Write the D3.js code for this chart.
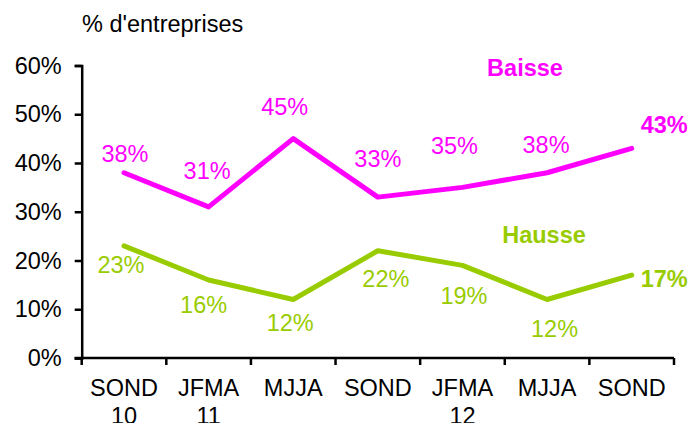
<!DOCTYPE html>
<html><head><meta charset="utf-8">
<script src="https://cdn.jsdelivr.net/npm/d3@7"></script>
<style>
html,body{margin:0;padding:0;background:#fff;}
svg{display:block;font-family:"Liberation Sans",Arial,sans-serif;}
</style></head>
<body>
<svg id="chart" width="694" height="423"></svg>
<script>
const categories = ["SOND\n10", "JFMA\n11", "MJJA", "SOND", "JFMA\n12", "MJJA", "SOND"];
const baisse = [38, 31, 45, 33, 35, 38, 43];
const hausse = [23, 16, 12, 22, 19, 12, 17];
const yTicks = [0, 10, 20, 30, 40, 50, 60];

(function () {
const svg = d3.select("#chart");
const mLeft = 81.7, mRight = 674, mTop = 65.5, mBottom = 358;
const FS = 23.5;

const x = d3.scaleBand().domain(d3.range(categories.length)).range([mLeft, mRight]).padding(0);
const y = d3.scaleLinear().domain([0, 60]).range([mBottom, mTop]);
const cx = i => x(i) + x.bandwidth() / 2;

// title
svg.append("text").attr("x", 82).attr("y", 32).attr("font-size", FS).attr("fill", "#000").text("% d'entreprises");

// y axis
const yAxis = svg.append("g").attr("transform", `translate(${mLeft},0)`)
  .call(d3.axisLeft(y).tickValues(yTicks).tickFormat(d => d + "%").tickSizeOuter(0).tickSize(7).tickPadding(13));
yAxis.select(".domain").attr("stroke", "#000").attr("stroke-width", 2.5);
yAxis.selectAll(".tick line").attr("stroke", "#000").attr("stroke-width", 2.5);
yAxis.selectAll(".tick text").attr("font-size", FS).attr("fill", "#000").attr("font-family", "Liberation Sans, Arial, sans-serif");

// x axis
const xAxis = svg.append("g").attr("transform", `translate(0,${mBottom})`);
xAxis.append("line").attr("x1", mLeft - 7).attr("x2", mRight).attr("y1", 0).attr("y2", 0).attr("stroke", "#000").attr("stroke-width", 2.5);
const bounds = d3.range(categories.length + 1).map(i => i < categories.length ? x(i) : x(i - 1) + x.bandwidth());
xAxis.selectAll("line.tk").data(bounds).join("line").attr("class", "tk")
  .attr("x1", d => d).attr("x2", d => d).attr("y1", 0).attr("y2", 7).attr("stroke", "#000").attr("stroke-width", 2.5);
xAxis.selectAll("text.cat").data(categories).join("text").attr("class", "cat")
  .attr("text-anchor", "middle").attr("font-size", FS).attr("fill", "#000")
  .each(function(d, i) {
    const t = d3.select(this);
    d.split("\n").forEach((ln, k) => {
      t.append("tspan").attr("x", cx(i)).attr("y", 38 + k * 28).text(ln);
    });
  });

const line = d3.line().x((d, i) => cx(i)).y(d => y(d));

const series = [
  { name: "Baisse", values: baisse, color: "#FF00FF",
    dx: [1, -1.5, -8.5, 0, -8, -1, 0], dy: [-11, -28, -24, -30, -33, -20, -15],
    legend: [525, 76] },
  { name: "Hausse", values: hausse, color: "#99CC00",
    dx: [-3, -5, -3, 8, 1.5, 7.5, 0], dy: [27, 33, 31.5, 36, 38.6, 37.5, 12],
    legend: [544, 243] }
];

series.forEach(s => {
  svg.append("path").datum(s.values).attr("d", line).attr("fill", "none")
    .attr("stroke", s.color).attr("stroke-width", 5).attr("stroke-linejoin", "round").attr("stroke-linecap", "round");
  const n = s.values.length;
  svg.selectAll(null).data(s.values).join("text")
    .attr("x", (d, i) => i === n - 1 ? cx(i) + 9 : cx(i) + s.dx[i])
    .attr("y", (d, i) => y(d) + s.dy[i])
    .attr("text-anchor", (d, i) => i === n - 1 ? "start" : "middle")
    .attr("font-weight", (d, i) => i === n - 1 ? "bold" : "normal")
    .attr("font-size", FS).attr("fill", s.color)
    .text(d => d + "%");
  svg.append("text").attr("x", s.legend[0]).attr("y", s.legend[1]).attr("text-anchor", "middle")
    .attr("font-weight", "bold").attr("font-size", FS).attr("fill", s.color).text(s.name);
});
})();
</script>
</body></html>
